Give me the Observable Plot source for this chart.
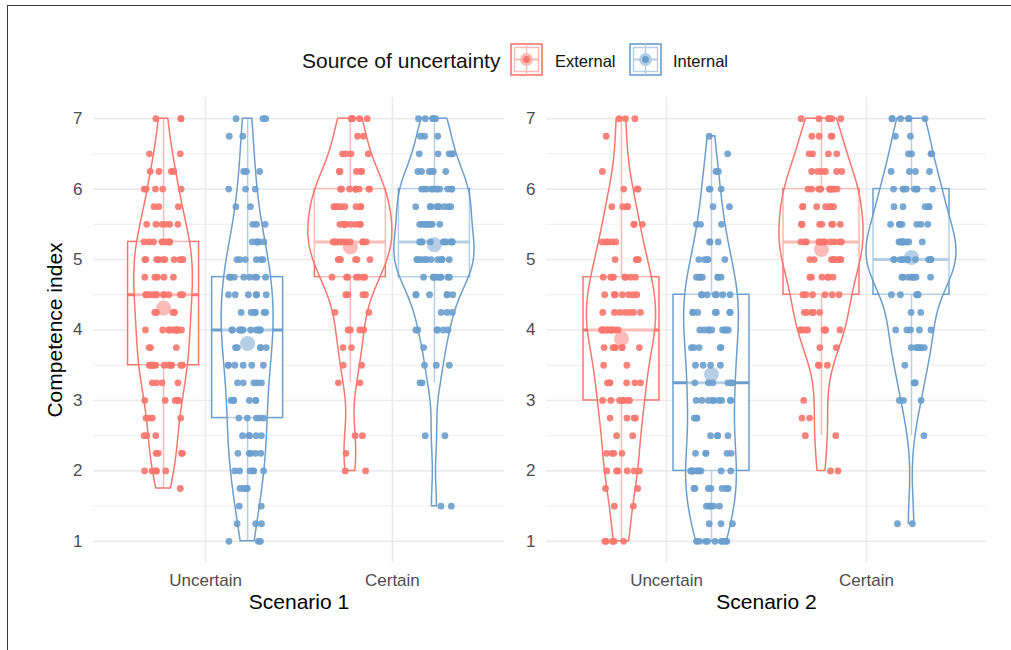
<!DOCTYPE html>
<html><head><meta charset="utf-8">
<script src="https://cdn.jsdelivr.net/npm/d3@7"></script>
<script src="https://cdn.jsdelivr.net/npm/@observablehq/plot@0.6"></script>
<style>
body{margin:0;background:#fff;font-family:"Liberation Sans",Arial,sans-serif;}
#page{position:relative;width:1011px;height:650px;overflow:hidden;background:#fff;}
#frame{position:absolute;left:7px;top:5px;width:1100px;height:700px;border-left:1.5px solid #3a3a3a;border-top:1.5px solid #3a3a3a;}
#legend{position:absolute;left:290px;top:35px;}
#p1{position:absolute;left:0;top:90px;}
#p2{position:absolute;left:520px;top:90px;}
</style></head><body>
<div id="page">
  <div id="frame"></div>
  <div id="legend"></div>
  <div id="p1"></div>
  <div id="p2"></div>
</div>
<script>
// ---------- data ----------
const levels = [1, 1.25, 1.5, 1.75, 2, 2.25, 2.5, 2.75, 3, 3.25, 3.5, 3.75, 4, 4.25, 4.5, 4.75, 5, 5.25, 5.5, 5.75, 6, 6.25, 6.5, 6.75, 7];
const conditions = ["Uncertain", "Certain"];
const sources = ["External", "Internal"];
const scenarios = ["Scenario 1", "Scenario 2"];
const yTicks = [1, 2, 3, 4, 5, 6, 7];
const yMinor = [1.5, 2.5, 3.5, 4.5, 5.5, 6.5];
const legendTitle = "Source of uncertainty";
const yTitle = "Competence index";

// number of respondents at each level of the index (levels 1 … 7)
const s1ExternalUncertain = [0,0,0,1,5,4,3,4,5,4,11,3,10,4,11,5,10,8,6,3,5,4,2,0,3];
const s1InternalUncertain = [3,3,2,4,6,5,5,5,6,5,6,5,11,6,6,8,6,5,3,2,3,3,0,2,3];
const s1ExternalCertain   = [0,0,0,0,2,1,2,0,0,2,2,2,4,2,4,7,7,11,8,8,9,5,4,2,5];
const s1InternalCertain   = [0,0,2,0,0,0,2,0,0,2,3,1,6,3,6,9,12,10,8,9,11,6,5,3,6];
const s2ExternalUncertain = [5,0,2,2,6,4,2,4,7,6,2,7,10,7,7,8,4,5,3,4,3,1,0,1,3];
const s2InternalUncertain = [9,3,5,7,10,5,4,3,9,6,4,5,9,7,7,7,5,3,3,2,3,2,1,1,0];
const s2ExternalCertain   = [0,0,0,0,2,0,2,2,1,0,3,2,8,5,6,6,9,11,8,7,11,6,4,4,6];
const s2InternalCertain   = [0,2,0,0,0,0,1,0,3,3,1,6,5,2,5,8,12,9,7,5,8,4,4,2,6];

const colors = ["#F8766D", "#6C9ECD"];
const lightColors = ["#FBBAB5", "#B5CEE6"];

// ---------- helpers ----------
const FONT = "'Liberation Sans', Arial, sans-serif";
// deterministic hash used only to spread the dots sideways (jitter)
function hash(a, b, c) {
  let h = (Math.imul(a + 1, 374761393) + Math.imul(b + 7, 668265263) + Math.imul(c + 3, 1274126177)) | 0;
  h = Math.imul(h ^ (h >>> 13), 1274126177);
  h ^= h >>> 16;
  h = Math.imul(h, 2246822519);
  h ^= h >>> 13;
  return (h >>> 0) / 4294967296;
}

function buildPanel(groups, scenario, opts) {
  const obs = [], stats = [], dens = [];
  groups.forEach((g, gi) => {
    const pos = conditions.indexOf(g.condition) + 1 + (g.source === sources[0] ? -0.225 : 0.225);
    const vals = [];
    g.counts.forEach((c, li) => {
      for (let j = 0; j < c; j++) {
        vals.push(levels[li]);
        const off = (hash(j, li, gi + opts.seed) - 0.5) * 0.21;
        obs.push({source: g.source, condition: g.condition, value: levels[li], jx: pos + off});
      }
    });
    vals.sort((a, b) => a - b);
    const q1 = d3.quantile(vals, 0.25), q3 = d3.quantile(vals, 0.75), med = d3.quantile(vals, 0.5);
    const iqr = q3 - q1;
    const lo = d3.min(vals.filter(v => v >= q1 - 1.5 * iqr));
    const hi = d3.max(vals.filter(v => v <= q3 + 1.5 * iqr));
    stats.push({source: g.source, pos, q1, q3, median: med, mean: d3.mean(vals), lo, hi});
    // kernel density (bw.nrd0), trimmed to data range
    const n = vals.length;
    const sd = d3.deviation(vals);
    const bw = 0.9 * Math.min(sd, iqr / 1.34) * Math.pow(n, -0.2);
    const mn = vals[0], mx = vals[n - 1];
    const K = 512;
    for (let k = 0; k < K; k++) {
      const y = mn + (mx - mn) * k / (K - 1);
      let s = 0;
      for (const v of vals) { const u = (y - v) / bw; s += Math.exp(-0.5 * u * u); }
      dens.push({key: g.source + g.condition, source: g.source, pos, y, d: s / (n * bw * Math.sqrt(2 * Math.PI))});
    }
  });
  const maxD = d3.max(dens, d => d.d);
  dens.forEach(d => { const hw = 0.225 * d.d / maxD; d.x1 = d.pos - hw; d.x2 = d.pos + hw; });

  const marks = [
    Plot.ruleY(yMinor, {stroke: "#EDEDED", strokeWidth: 1}),
    Plot.ruleY(yTicks, {stroke: "#EBEBEB", strokeWidth: 1.6}),
    Plot.ruleX([1, 2], {stroke: "#EBEBEB", strokeWidth: 1.6}),
    Plot.axisX({ticks: [1, 2], tickFormat: d => conditions[d - 1], tickSize: 0, tickPadding: 11, fontSize: 17, label: null, fill: "#4D4D4D"}),
    Plot.axisY({ticks: yTicks, tickFormat: d => String(d), tickSize: 0, tickPadding: 11, fontSize: 17, label: null, fill: "#4D4D4D"}),
    Plot.ruleX(stats, {x: "pos", y1: "lo", y2: "q1", stroke: "source", strokeWidth: 1.5}),
    Plot.ruleX(stats, {x: "pos", y1: "q3", y2: "hi", stroke: "source", strokeWidth: 1.5}),
    Plot.rect(stats, {x1: d => d.pos - 0.19, x2: d => d.pos + 0.19, y1: "q1", y2: "q3", fill: "white", stroke: "source", strokeWidth: 1.5}),
    Plot.ruleY(stats, {y: "median", x1: d => d.pos - 0.19, x2: d => d.pos + 0.19, stroke: "source", strokeWidth: 3}),
    Plot.dot(stats, {x: "pos", y: "mean", r: 7.5, fill: "source", stroke: "none"}),
    Plot.areaX(dens, {y: "y", x1: "x1", x2: "x2", z: "key", fill: "white", fillOpacity: 0.5, stroke: "source", strokeWidth: 1.5}),
    Plot.dot(obs, {x: "jx", y: "value", r: 3.4, fill: "source", fillOpacity: 0.9, stroke: "none"}),
    Plot.text([scenario], {frameAnchor: "bottom", textAnchor: "middle", dy: 46, fontSize: 21, fill: "black"})
  ];
  if (opts.yTitle) marks.push(Plot.text([yTitle], {frameAnchor: "left", textAnchor: "middle", rotate: -90, dx: -38, fontSize: 21, fill: "black"}));

  return Plot.plot({
    width: opts.width, height: 540,
    marginLeft: opts.ml, marginRight: opts.mr, marginTop: 7, marginBottom: 68,
    x: {domain: [0.4, 2.6]},
    y: {domain: [0.7, 7.3]},
    color: {domain: sources, range: colors},
    style: {fontFamily: FONT, background: "transparent", overflow: "visible"},
    marks
  });
}

const panel1 = buildPanel([
  {condition: "Uncertain", source: "External", counts: s1ExternalUncertain},
  {condition: "Uncertain", source: "Internal", counts: s1InternalUncertain},
  {condition: "Certain", source: "External", counts: s1ExternalCertain},
  {condition: "Certain", source: "Internal", counts: s1InternalCertain}
], scenarios[0], {width: 520, ml: 93, mr: 16, yTitle: true, seed: 0});
document.getElementById("p1").appendChild(panel1);

const panel2 = buildPanel([
  {condition: "Uncertain", source: "External", counts: s2ExternalUncertain},
  {condition: "Uncertain", source: "Internal", counts: s2InternalUncertain},
  {condition: "Certain", source: "External", counts: s2ExternalCertain},
  {condition: "Certain", source: "Internal", counts: s2InternalCertain}
], scenarios[1], {width: 491, ml: 26, mr: 25, yTitle: false, seed: 10});
document.getElementById("p2").appendChild(panel2);

// ---------- legend ----------
const lg = d3.select("#legend").append("svg").attr("width", 460).attr("height", 50)
  .style("font-family", FONT);
lg.append("text").attr("x", 12).attr("y", 33).attr("font-size", 21).attr("fill", "#111").text(legendTitle);
const keyX = [220, 339], labX = [265, 383];
sources.forEach((s, i) => {
  const g = lg.append("g").attr("transform", `translate(${keyX[i]},8)`);
  g.append("rect").attr("x", 1).attr("y", 1).attr("width", 31).attr("height", 31).attr("fill", "white").attr("stroke", colors[i]).attr("stroke-width", 1.6);
  g.append("rect").attr("x", 4.5).attr("y", 4.5).attr("width", 24).attr("height", 24).attr("fill", "none").attr("stroke", lightColors[i]).attr("stroke-width", 1.4);
  g.append("line").attr("x1", 16.5).attr("x2", 16.5).attr("y1", 1).attr("y2", 32).attr("stroke", lightColors[i]).attr("stroke-width", 1.4);
  g.append("line").attr("x1", 4.5).attr("x2", 28.5).attr("y1", 16.5).attr("y2", 16.5).attr("stroke", lightColors[i]).attr("stroke-width", 2);
  g.append("circle").attr("cx", 16.5).attr("cy", 16.5).attr("r", 6.5).attr("fill", lightColors[i]);
  g.append("circle").attr("cx", 16.5).attr("cy", 16.5).attr("r", 3.4).attr("fill", colors[i]);
  lg.append("text").attr("x", labX[i]).attr("y", 32).attr("font-size", 16.5).attr("fill", "#111").text(s);
});
</script>
</body></html>
